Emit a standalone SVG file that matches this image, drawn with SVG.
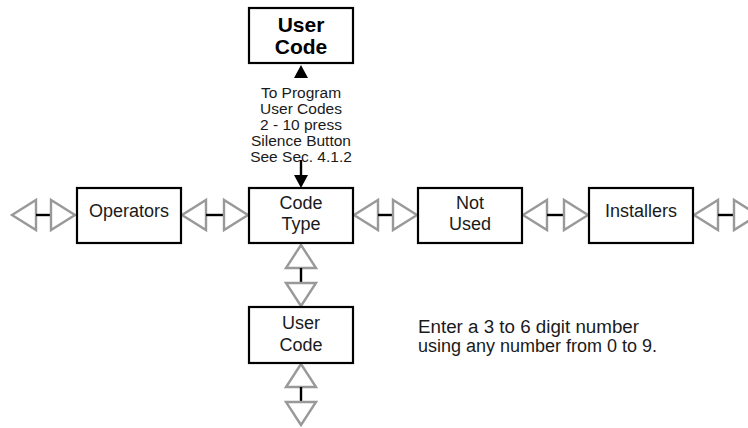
<svg xmlns="http://www.w3.org/2000/svg" width="748" height="428" viewBox="0 0 748 428">
<style>
.box{fill:#fff;stroke:#000;stroke-width:2.2}
.lbl{font-family:"Liberation Sans",Arial,sans-serif;font-size:18px;fill:#1a1a1a;text-anchor:middle}
.bold{font-weight:bold;font-size:21px;fill:#000}
.note{font-family:"Liberation Sans",Arial,sans-serif;font-size:15.5px;fill:#1a1a1a;text-anchor:middle}
.info{font-family:"Liberation Sans",Arial,sans-serif;font-size:18px;fill:#1a1a1a}
.tri{fill:#fff;stroke:#999;stroke-width:2.4;stroke-linejoin:miter}
.bar{stroke:#000;stroke-width:2.4}
.blk{fill:#000}
</style>
<rect width="748" height="428" fill="#fff"/>
<g id="connectors">
  <polygon class="tri" points="12,215 36,200 36,230"/>
  <line class="bar" x1="36" y1="215" x2="51" y2="215"/>
  <polygon class="tri" points="75,215 51,200 51,230"/>
  <polygon class="tri" points="182,215 206,200 206,230"/>
  <line class="bar" x1="206" y1="215" x2="224" y2="215"/>
  <polygon class="tri" points="248,215 224,200 224,230"/>
  <polygon class="tri" points="354,215 378,200 378,230"/>
  <line class="bar" x1="378" y1="215" x2="393" y2="215"/>
  <polygon class="tri" points="417,215 393,200 393,230"/>
  <polygon class="tri" points="523,215 547,200 547,230"/>
  <line class="bar" x1="547" y1="215" x2="564" y2="215"/>
  <polygon class="tri" points="588,215 564,200 564,230"/>
  <polygon class="tri" points="694,215 718,200 718,230"/>
  <line class="bar" x1="718" y1="215" x2="734" y2="215"/>
  <polygon class="tri" points="758,215 734,200 734,230"/>
  <polygon class="tri" points="301,245 286,268 316,268"/>
  <line class="bar" x1="301" y1="268" x2="301" y2="283"/>
  <polygon class="tri" points="301,306 286,283 316,283"/>
  <polygon class="tri" points="301,364 286,387 316,387"/>
  <line class="bar" x1="301" y1="387" x2="301" y2="402"/>
  <polygon class="tri" points="301,425 286,402 316,402"/>
  <polygon class="blk" points="301,65 294,78 308,78"/>
  <line class="bar" x1="301" y1="160" x2="301" y2="176"/>
  <polygon class="blk" points="301,188 294,175 308,175"/>
</g>
<g id="node-top-user-code">
  <rect class="box" x="249" y="8" width="104" height="55"/>
  <text class="lbl bold" x="301" y="32">User</text>
  <text class="lbl bold" x="301" y="54">Code</text>
</g>
<g id="note">
  <text class="note" x="301" y="98">To Program</text>
  <text class="note" x="301" y="114">User Codes</text>
  <text class="note" x="301" y="130">2 - 10 press</text>
  <text class="note" x="301" y="146">Silence Button</text>
  <text class="note" x="301" y="162">See Sec. 4.1.2</text>
</g>
<g id="node-operators">
  <rect class="box" x="77" y="188" width="104" height="55"/>
  <text class="lbl" x="129" y="217">Operators</text>
</g>
<g id="node-code-type">
  <rect class="box" x="249" y="188" width="104" height="55"/>
  <text class="lbl" x="301" y="209">Code</text>
  <text class="lbl" x="301" y="230">Type</text>
</g>
<g id="node-not-used">
  <rect class="box" x="418" y="188" width="104" height="55"/>
  <text class="lbl" x="470" y="209">Not</text>
  <text class="lbl" x="470" y="230">Used</text>
</g>
<g id="node-installers">
  <rect class="box" x="589" y="188" width="104" height="55"/>
  <text class="lbl" x="641" y="217">Installers</text>
</g>
<g id="node-user-code">
  <rect class="box" x="249" y="307" width="104" height="56"/>
  <text class="lbl" x="301" y="329">User</text>
  <text class="lbl" x="301" y="351">Code</text>
</g>
<g id="info">
  <text class="info" x="418" y="333" textLength="221" lengthAdjust="spacingAndGlyphs">Enter a 3 to 6 digit number</text>
  <text class="info" x="418" y="352">using any number from 0 to 9.</text>
</g>
</svg>
